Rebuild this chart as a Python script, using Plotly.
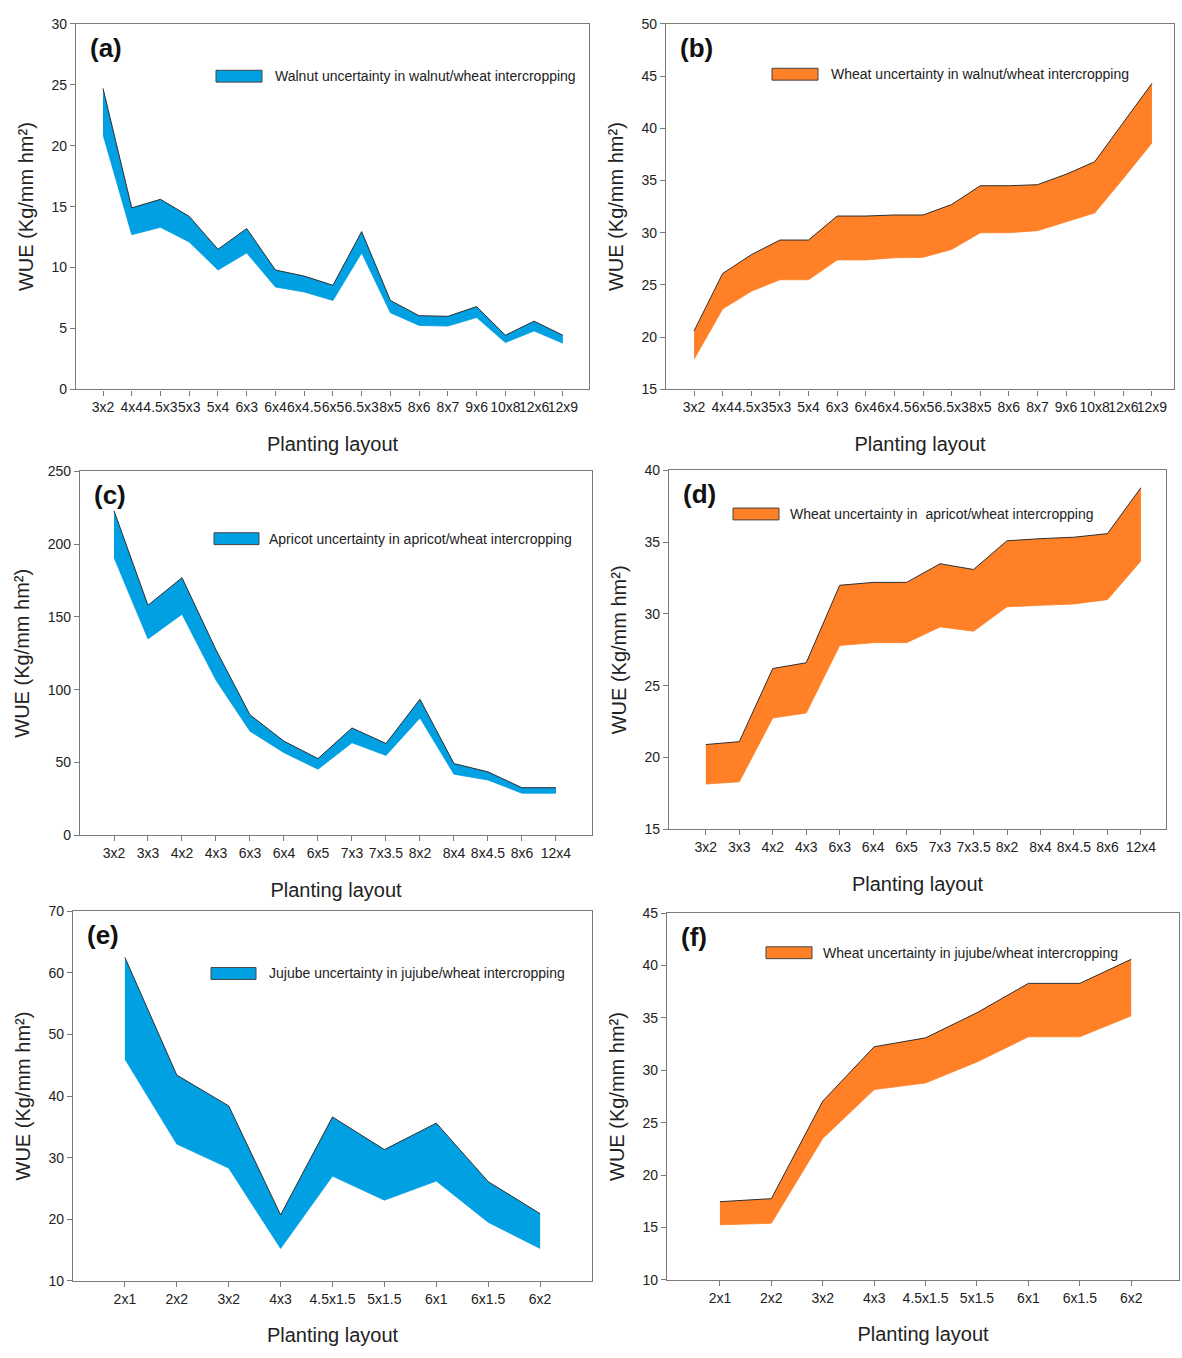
import plotly.graph_objects as go

W, H = 1182, 1358

# ---- data: WUE uncertainty bands (upper / lower bounds, Kg/mm hm2) ----
walnut_layouts = ["3x2", "4x4", "4.5x3", "5x3", "5x4", "6x3", "6x4", "6x4.5", "6x5",
                  "6.5x3", "8x5", "8x6", "8x7", "9x6", "10x8", "12x6", "12x9"]
walnut_upper = [24.7, 14.9, 15.6, 14.2, 11.5, 13.2, 9.8, 9.3, 8.55, 12.95, 7.3, 6.05, 6.0, 6.8, 4.45, 5.6, 4.45]
walnut_lower = [20.9, 12.7, 13.3, 12.1, 9.8, 11.2, 8.4, 8.0, 7.3, 11.2, 6.3, 5.25, 5.2, 5.9, 3.85, 4.8, 3.8]
wheat_walnut_upper = [20.6, 26.1, 27.9, 29.3, 29.3, 31.6, 31.6, 31.7, 31.7, 32.7, 34.5, 34.5, 34.6, 35.6, 36.8, 40.5, 44.3]
wheat_walnut_lower = [17.9, 22.7, 24.4, 25.5, 25.5, 27.4, 27.4, 27.6, 27.65, 28.4, 30.0, 30.0, 30.2, 31.05, 31.9, 35.2, 38.6]

apricot_layouts = ["3x2", "3x3", "4x2", "4x3", "6x3", "6x4", "6x5", "7x3", "7x3.5",
                   "8x2", "8x4", "8x4.5", "8x6", "12x4"]
apricot_upper = [223, 158, 177, 127.4, 82.7, 64.6, 52.6, 73.7, 63.0, 93.4, 49.2, 43.5, 32.6, 32.6]
apricot_lower = [190.8, 134.9, 151.9, 106.5, 71.4, 56.7, 45.3, 63.5, 54.8, 80.5, 41.9, 37.9, 28.8, 28.8]
wheat_apricot_upper = [20.9, 21.1, 26.2, 26.6, 32.0, 32.2, 32.2, 33.5, 33.1, 35.1, 35.25, 35.35, 35.6, 38.8]
wheat_apricot_lower = [18.15, 18.3, 22.75, 23.1, 27.8, 28.0, 28.0, 29.1, 28.8, 30.5, 30.6, 30.7, 31.0, 33.7]

jujube_layouts = ["2x1", "2x2", "3x2", "4x3", "4.5x1.5", "5x1.5", "6x1", "6x1.5", "6x2"]
jujube_upper = [62.5, 43.4, 38.4, 20.7, 36.6, 31.3, 35.6, 26.1, 20.9]
jujube_lower = [46.0, 32.2, 28.3, 15.25, 27.0, 23.1, 26.2, 19.5, 15.25]
wheat_jujube_upper = [17.46, 17.75, 27.06, 32.25, 33.1, 35.5, 38.3, 38.3, 40.6]
wheat_jujube_lower = [15.25, 15.4, 23.5, 28.16, 28.8, 30.8, 33.2, 33.2, 35.2]

legend_texts = [
    "Walnut uncertainty in walnut/wheat intercropping",
    "Wheat uncertainty in walnut/wheat intercropping",
    "Apricot uncertainty in apricot/wheat intercropping",
    "Wheat uncertainty in  apricot/wheat intercropping",
    "Jujube uncertainty in jujube/wheat intercropping",
    "Wheat uncertainty in jujube/wheat intercropping",
]
panel_letters = ["(a)", "(b)", "(c)", "(d)", "(e)", "(f)"]
y_title = "WUE (Kg/mm hm²)"
x_title = "Planting layout"

BLUE = "rgb(0,160,226)"
ORANGE = "rgb(255,128,38)"
EDGE = "#2e2e2e"
FRAME = "#7a7a7a"

TICK_FONT = dict(family="Liberation Sans, Arial", size=14, color="#222")
TITLE_FONT = dict(family="Liberation Sans, Arial", size=20, color="#222")

# panel geometry in pixels: (left, right, top, bottom), x range, y range, y step,
# legend swatch (x0, x1, y centre, text x)
panels = [
    dict(cats=walnut_layouts, up=walnut_upper, lo=walnut_lower, color=BLUE,
         box=(76, 589, 16, 386), xr=[-0.94, 16.91], yr=[0, 30], dy=5,
         leg=(216, 262, 69, 273)),
    dict(cats=walnut_layouts, up=wheat_walnut_upper, lo=wheat_walnut_lower, color=ORANGE,
         box=(666, 1174, 16, 386), xr=[-0.98, 16.77], yr=[15, 50], dy=5,
         leg=(772, 818, 67, 829)),
    dict(cats=apricot_layouts, up=apricot_upper, lo=apricot_lower, color=BLUE,
         box=(80, 592, 469, 837), xr=[-1.0, 14.06], yr=[0, 250], dy=50,
         leg=(214, 259, 537, 267)),
    dict(cats=apricot_layouts, up=wheat_apricot_upper, lo=wheat_apricot_lower, color=ORANGE,
         box=(669, 1166, 468, 831), xr=[-1.1, 13.75], yr=[15, 40], dy=5,
         leg=(733, 779, 512, 788)),
    dict(cats=jujube_layouts, up=jujube_upper, lo=jujube_lower, color=BLUE,
         box=(73, 592, 914, 1288), xr=[-1.0, 9.0], yr=[10, 70], dy=10,
         leg=(211, 256, 977, 267)),
    dict(cats=jujube_layouts, up=wheat_jujube_upper, lo=wheat_jujube_lower, color=ORANGE,
         box=(667, 1179, 916, 1287), xr=[-1.03, 8.93], yr=[10, 45], dy=5,
         leg=(766, 812, 956, 821)),
]


def px(xp):
    return xp / W


def py(yp):
    return 1 - yp / H


fig = go.Figure()
layout = {}
shapes = []
annotations = []

for i, p in enumerate(panels):
    n = "" if i == 0 else str(i + 1)
    xa, ya = "x" + n, "y" + n
    idx = list(range(len(p["cats"])))

    # lower bound first, then the upper bound filled down to it
    fig.add_trace(go.Scatter(x=idx, y=p["lo"], xaxis=xa, yaxis=ya, mode="lines",
                             line=dict(color=p["color"], width=0.8), showlegend=False))
    fig.add_trace(go.Scatter(x=idx, y=p["up"], xaxis=xa, yaxis=ya, mode="lines",
                             fill="tonexty", fillcolor=p["color"],
                             line=dict(color=EDGE, width=1), showlegend=False))

    l, r, t, b = p["box"]
    layout["xaxis" + n] = dict(
        domain=[px(l), px(r)], anchor=ya, range=p["xr"],
        tickmode="array", tickvals=idx, ticktext=p["cats"], tickangle=0,
        ticks="outside", ticklen=5, tickcolor=FRAME, tickfont=TICK_FONT,
        showline=True, linecolor=FRAME, linewidth=1.2, mirror=True,
        showgrid=False, zeroline=False,
        title=dict(text=x_title, font=TITLE_FONT, standoff=22),
    )
    layout["yaxis" + n] = dict(
        domain=[py(b), py(t)], anchor=xa, range=p["yr"], dtick=p["dy"], tick0=0,
        ticks="outside", ticklen=5, tickcolor=FRAME, tickfont=TICK_FONT,
        showline=True, linecolor=FRAME, linewidth=1.2, mirror=True,
        showgrid=False, zeroline=False,
        title=dict(text=y_title, font=TITLE_FONT, standoff=12),
    )

    # panel letter
    annotations.append(dict(text="<b>" + panel_letters[i] + "</b>", xref="paper", yref="paper",
                            x=px(l + 12), y=py(t + 24), xanchor="left", yanchor="middle",
                            showarrow=False,
                            font=dict(family="Liberation Sans, Arial", size=26, color="#111")))

    # legend swatch and label
    sx0, sx1, sy, tx = p["leg"]
    shapes.append(dict(type="rect", xref="paper", yref="paper",
                       x0=px(sx0), x1=px(sx1), y0=py(sy + 6), y1=py(sy - 6),
                       fillcolor=p["color"], line=dict(color="#444", width=1)))
    annotations.append(dict(text=legend_texts[i], xref="paper", yref="paper",
                            x=px(tx), y=py(sy), xanchor="left", yanchor="middle",
                            showarrow=False, font=TICK_FONT))

fig.update_layout(
    width=W, height=H,
    margin=dict(l=0, r=0, t=0, b=0),
    paper_bgcolor="white", plot_bgcolor="white",
    showlegend=False,
    shapes=shapes, annotations=annotations,
    **layout,
)

fig.write_html("out.html")
